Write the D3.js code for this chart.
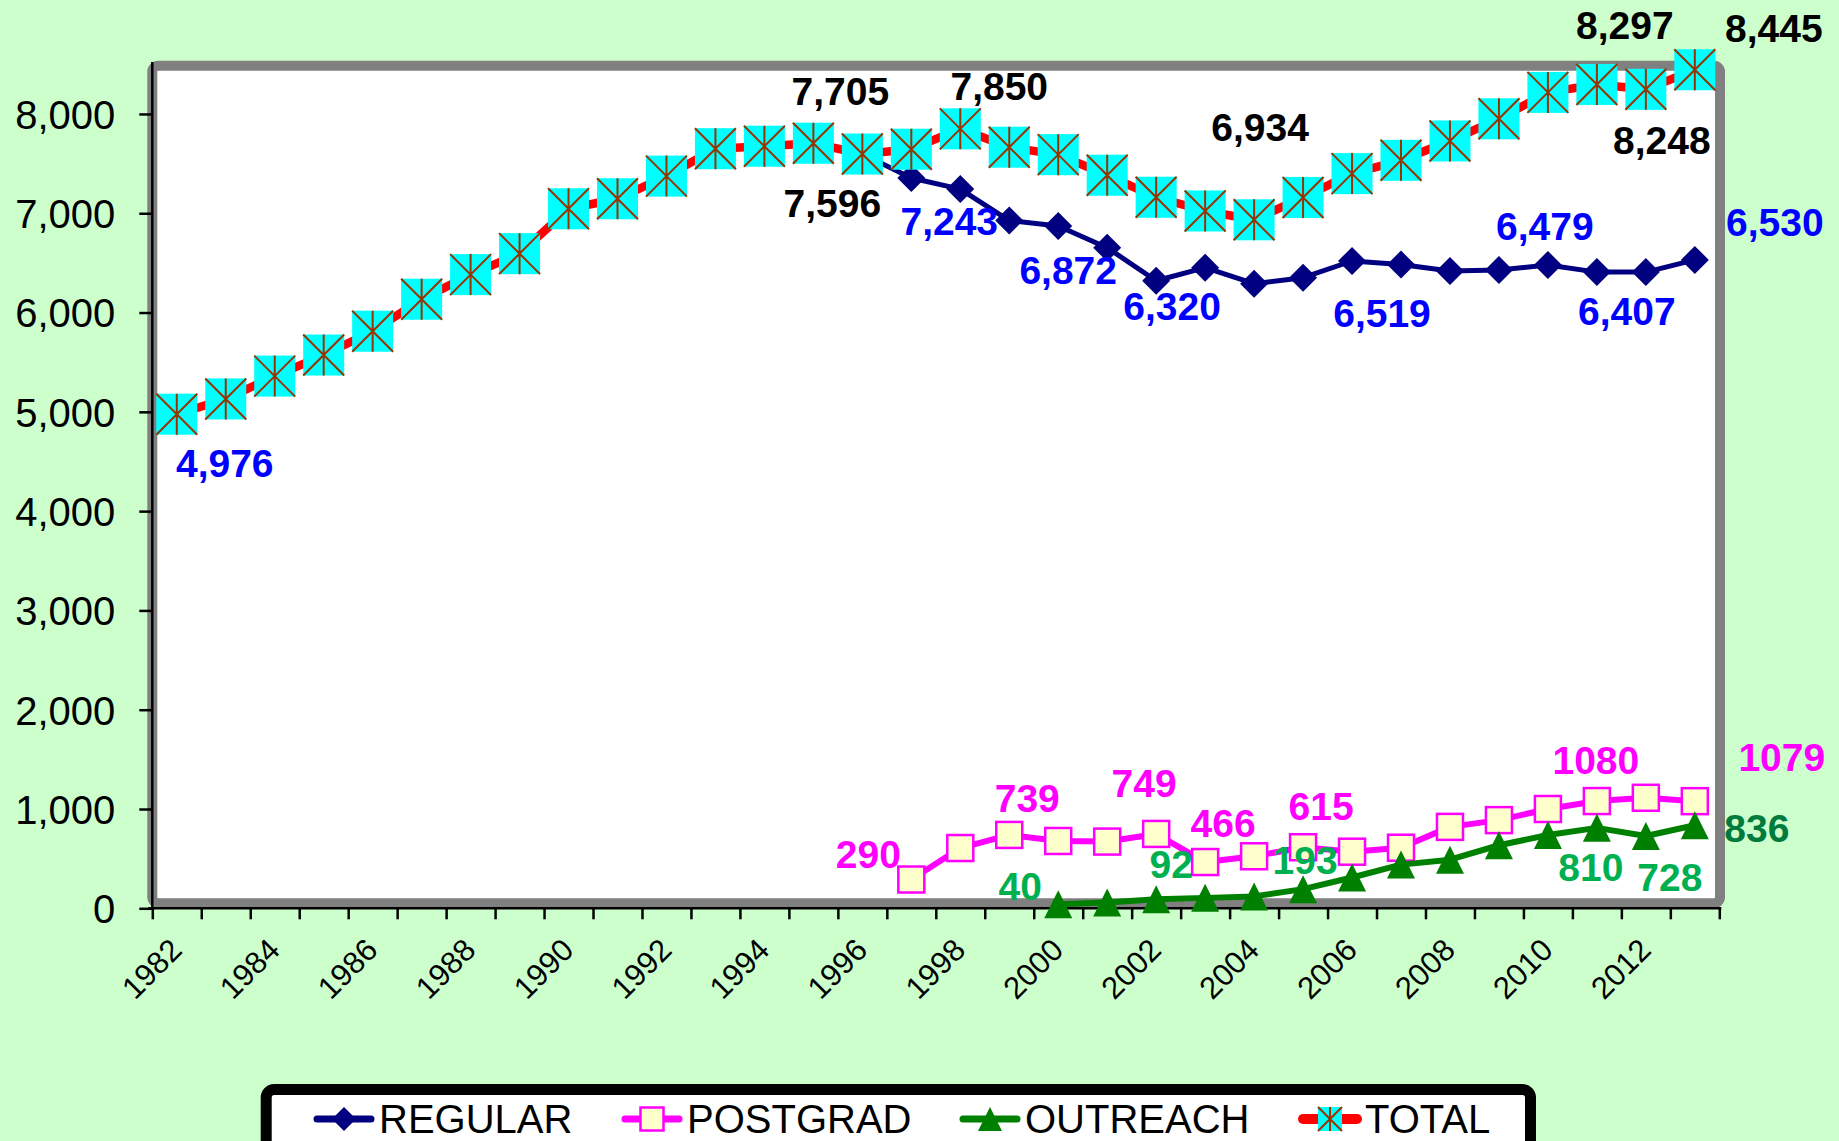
<!DOCTYPE html>
<html>
<head>
<meta charset="utf-8">
<script src="https://cdn.jsdelivr.net/npm/d3@7"></script>
<style>
   html, body { margin: 0; padding: 0; background: #ccffcc; }
   svg { display: block; }
</style>
</head>
<body>
<svg id="chart" width="1839" height="1141"></svg>
<script>
   'use strict';

   const years = [1982, 1983, 1984, 1985, 1986, 1987, 1988, 1989, 1990, 1991, 1992,
      1993, 1994, 1995, 1996, 1997, 1998, 1999, 2000, 2001, 2002, 2003, 2004, 2005,
      2006, 2007, 2008, 2009, 2010, 2011, 2012, 2013];

   const regular = [4976, 5130, 5360, 5572, 5812, 6134, 6382, 6593, 7045, 7146, 7374,
      7650, 7675, 7705, 7596, 7355, 7243, 6926, 6872, 6653, 6320, 6452, 6290, 6351,
      6519, 6483, 6418, 6428, 6479, 6407, 6407, 6530];

   const postgrad = [null, null, null, null, null, null, null, null, null, null, null,
      null, null, null, null, 290, 607, 739, 678, 672, 749, 466, 524, 615,
      570, 610, 820, 888, 1000, 1080, 1113, 1079];

   const outreach = [null, null, null, null, null, null, null, null, null, null, null,
      null, null, null, null, null, null, null, 40, 58, 92, 105, 120, 193,
      310, 440, 490, 635, 738, 810, 728, 836];

   const total = [4976, 5130, 5360, 5572, 5812, 6134, 6382, 6593, 7045, 7146, 7374,
      7650, 7675, 7705, 7596, 7645, 7850, 7665, 7590, 7383, 7161, 7023, 6934, 7159,
      7399, 7533, 7728, 7951, 8217, 8297, 8248, 8445];

   const yTicks = [0, 1000, 2000, 3000, 4000, 5000, 6000, 7000, 8000];
   const xLabelYears = [1982, 1984, 1986, 1988, 1990, 1992, 1994, 1996, 1998, 2000,
      2002, 2004, 2006, 2008, 2010, 2012];

   // which points carry a value label, and where it sits relative to the point
   const regularLabels = [[1982, 48, 49], [1998, -11, 32], [2000, 10, 44], [2002, 16, 25],
      [2006, 30, 52], [2010, -3, -39], [2012, -19, 39], [2013, 80, -38]];
   const postgradLabels = [[1997, -43, -26], [1999, 18, -37], [2002, -12, -51], [2003, 18, -39],
      [2005, 18, -41], [2011, -1, -41], [2013, 87, -44]];
   const outreachLabels = [[2000, -38, -18], [2002, 15, -35], [2005, 2, -29],
      [2011, -6, 39], [2012, 24, 41], [2013, 62, 3]];
   const totalLabels = [[1995, 27, -52], [1996, -30, 49], [1998, 39, -43], [2004, 6, -93],
      [2011, 28, -59], [2012, 16, 51], [2013, 79, -42]];

   const FONT = '"Liberation Sans", Arial, sans-serif';

   const svg = d3.select('#chart');
   const width = +svg.attr('width');
   const height = +svg.attr('height');

   svg.append('rect')
      .attr('width', width).attr('height', height)
      .attr('fill', '#ccffcc');

   const plotLeft = 152.3, plotRight = 1719.3, plotBottom = 908.3, plotTop = 64.3;

   const x = d3.scaleBand().domain(years).range([plotLeft, plotRight]);
   const xLin = d3.scaleLinear().domain([1982, 2014]).range([plotLeft, plotRight]);
   const y = d3.scaleLinear().domain([0, 8500]).range([plotBottom, plotTop]);
   const cx = yr => x(yr) + x.bandwidth() / 2;

   // plot area frame
   svg.append('rect')
      .attr('x', plotLeft).attr('y', 65.7)
      .attr('width', plotRight - plotLeft + 0.7).attr('height', 837.5)
      .attr('rx', 6)
      .attr('fill', '#ffffff')
      .attr('stroke', '#808080')
      .attr('stroke-width', 10);

   // y axis
   const yAxis = svg.append('g')
      .attr('transform', `translate(${plotLeft},0)`)
      .call(d3.axisLeft(y).tickValues(yTicks).tickSize(13).tickPadding(24)
         .tickFormat(d3.format(',')));
   yAxis.select('.domain').attr('stroke', '#000').attr('stroke-width', 2.5)
      .attr('d', `M0,62V${plotBottom}`);
   yAxis.selectAll('.tick line').attr('stroke', '#000').attr('stroke-width', 2.5);
   yAxis.selectAll('.tick text')
      .attr('font-family', FONT).attr('font-size', 40).attr('fill', '#000')
      .attr('dy', '0.36em');

   // x axis: ticks on category boundaries
   const xAxis = svg.append('g')
      .attr('transform', `translate(0,${plotBottom})`)
      .call(d3.axisBottom(xLin).tickValues(d3.range(1982, 2015)).tickSize(11).tickFormat(''));
   xAxis.select('.domain').attr('stroke', '#000').attr('stroke-width', 2.5)
      .attr('d', `M${plotLeft - 4},0H${plotRight + 2}`);
   xAxis.selectAll('.tick line').attr('stroke', '#000').attr('stroke-width', 2.5);

   svg.append('g').selectAll('text')
      .data(xLabelYears)
      .join('text')
      .attr('transform', d => `translate(${cx(d) - 1},944) rotate(-45)`)
      .attr('text-anchor', 'end')
      .attr('dy', '0.36em')
      .attr('font-family', FONT).attr('font-size', 31).attr('fill', '#000')
      .text(d => d);

   // marker painters
   const diamond = (g, s) => g.append('path')
      .attr('d', `M0,${-s / 2}L${s / 2},0L0,${s / 2}L${-s / 2},0Z`)
      .attr('fill', '#000080');
   const square = (g, s) => g.append('rect')
      .attr('x', -s / 2).attr('y', -s / 2).attr('width', s).attr('height', s)
      .attr('fill', '#ffffcc').attr('stroke', '#ff00ff').attr('stroke-width', 2.5);
   const triangle = (g, s) => g.append('path')
      .attr('d', `M0,${-s / 2}L${s / 2},${s / 2}L${-s / 2},${s / 2}Z`)
      .attr('fill', '#008000');
   const star = (g, s) => {
      g.append('rect')
         .attr('x', -s / 2).attr('y', -s / 2).attr('width', s).attr('height', s)
         .attr('fill', '#00ffff');
      g.append('path')
         .attr('d', `M${-s / 2},${-s / 2}L${s / 2},${s / 2}M${s / 2},${-s / 2}L${-s / 2},${s / 2}M0,${-s / 2}V${s / 2}`)
         .attr('stroke', '#993300').attr('stroke-width', 2).attr('fill', 'none');
   };

   const series = [
      { name: 'REGULAR', values: regular, color: '#000080', width: 5, marker: diamond, size: 28, legendSize: 24 },
      { name: 'POSTGRAD', values: postgrad, color: '#ff00ff', width: 6, marker: square, size: 26, legendSize: 23 },
      { name: 'OUTREACH', values: outreach, color: '#008000', width: 6, marker: triangle, size: 28, legendSize: 24 },
      { name: 'TOTAL', values: total, color: '#ff0000', width: 8.5, marker: star, size: 41, legendSize: 24 }
   ];

   const line = d3.line()
      .defined(d => d.v !== null)
      .x(d => cx(d.yr))
      .y(d => y(d.v));

   series.forEach(s => {
      const pts = years.map((yr, i) => ({ yr: yr, v: s.values[i] }));
      const g = svg.append('g');
      g.append('path')
         .datum(pts)
         .attr('d', line)
         .attr('fill', 'none')
         .attr('stroke', s.color)
         .attr('stroke-width', s.width)
         .attr('stroke-linejoin', 'round');
      pts.filter(d => d.v !== null).forEach(d => {
         const m = g.append('g').attr('transform', `translate(${cx(d.yr)},${y(d.v)})`);
         s.marker(m, s.size);
      });
   });

   // value labels
   const labelSets = [
      { values: regular, spots: regularLabels, color: '#0000ff', fmt: d3.format(',') },
      { values: postgrad, spots: postgradLabels, color: '#ff00ff', fmt: d3.format('d') },
      { values: outreach, spots: outreachLabels, color: '#00b050', fmt: d3.format('d') },
      { values: total, spots: totalLabels, color: '#000000', fmt: d3.format(',') }
   ];

   labelSets.forEach(set => {
      svg.append('g').selectAll('text')
         .data(set.spots)
         .join('text')
         .attr('x', d => cx(d[0]) + d[1])
         .attr('y', d => y(set.values[years.indexOf(d[0])]) + d[2])
         .attr('dy', '0.36em')
         .attr('text-anchor', 'middle')
         .attr('font-family', FONT).attr('font-size', 39).attr('font-weight', 'bold')
         .attr('fill', d => (set.values === outreach && d[0] === 2013) ? '#007a3d' : set.color)
         .text(d => set.fmt(set.values[years.indexOf(d[0])]));
   });

   // legend
   svg.append('rect')
      .attr('x', 266.2).attr('y', 1089.5)
      .attr('width', 1264.3).attr('height', 100)
      .attr('rx', 8)
      .attr('fill', '#ffffff')
      .attr('stroke', '#000000')
      .attr('stroke-width', 11);

   const legendX = [344, 652, 990, 1330];
   series.forEach((s, i) => {
      const g = svg.append('g').attr('transform', `translate(${legendX[i]},1119)`);
      g.append('line')
         .attr('x1', -27).attr('x2', 27)
         .attr('stroke', s.color)
         .attr('stroke-width', i === 3 ? 10 : 7)
         .attr('stroke-linecap', 'round');
      s.marker(g, s.legendSize);
      g.append('text')
         .attr('x', 35).attr('y', 14)
         .attr('font-family', FONT).attr('font-size', 40).attr('fill', '#000')
         .text(s.name);
   });
</script>
</body>
</html>
